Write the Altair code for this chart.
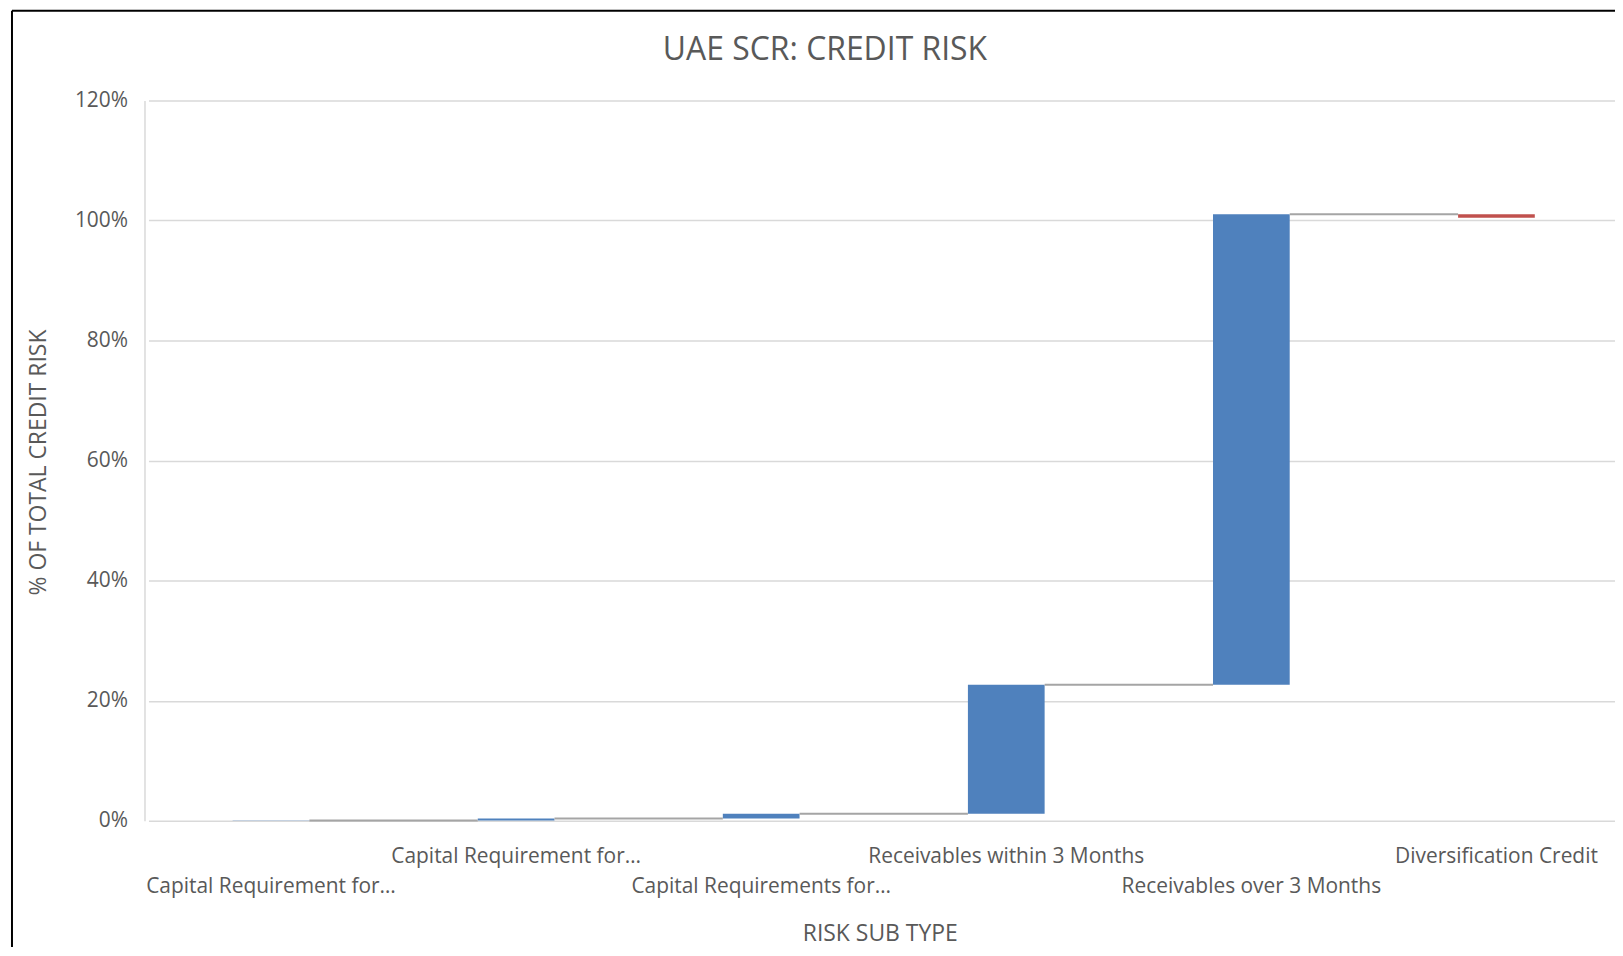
import json
import altair as alt
import pandas as pd

# ---- data ----
labels = [
    "Capital Requirement for…",
    "Capital Requirement for…",
    "Capital Requirements for…",
    "Receivables within 3 Months",
    "Receivables over 3 Months",
    "Diversification Credit",
]
values = [0.0005, 0.003, 0.008, 0.215, 0.784, -0.006]  # share of total credit risk
y_ticks = [0, 0.2, 0.4, 0.6, 0.8, 1.0, 1.2]

BLUE = "#4F81BD"
RED = "#C0504D"
GREY = "#A5A5A5"
TEXT = "#595959"
FONT = "Open Sans"

# waterfall table
rows = []
level = 0.0
for i, (lab, v) in enumerate(zip(labels, values)):
    start = level
    level = level + v
    rows.append({"key": i, "label": lab, "start": start, "end": level,
                 "kind": "up" if v >= 0 else "down"})
df = pd.DataFrame(rows)

conn = pd.DataFrame([
    {"key": r["key"], "next": r["key"] + 1, "level": r["end"]}
    for r in rows[:-1]
])

W, H = 1476, 723
BAR = 77

label_expr = json.dumps(labels) + "[datum.value]"

x_enc = alt.X(
    "key:O",
    title="RISK SUB TYPE",
    scale=alt.Scale(paddingInner=0, paddingOuter=0, range=[4, W + 4]),
    axis=alt.Axis(
        labelExpr=label_expr,
        labelAngle=0,
        labelBaseline="middle",
        labelPadding=alt.ExprRef("datum.value % 2 == 0 ? 66 : 36"),
        labelOverlap=False,
        labelLimit=600,
        labelFontSize=21,
        ticks=False,
        tickSize=0,
        domain=False,
        titleX=W / 2,
        titleY=113,
        titleBaseline="middle",
        titleFontSize=23,
    ),
)

y_scale = alt.Scale(domain=[0, 1.2], nice=False)
y_axis = alt.Axis(
    values=y_ticks,
    format=".0%",
    labelFontSize=21,
    labelPadding=17,
    ticks=False,
    tickSize=0,
    domainColor="#D9D9D9",
    domainWidth=1.5,
    gridColor="#D9D9D9",
    gridWidth=1.5,
    title="% OF TOTAL CREDIT RISK",
    titleX=-106,
    titleY=363,
    titleAngle=-90,
    titleAlign="center",
    titleBaseline="middle",
    titleFontSize=23,
)

bars = alt.Chart(df).mark_bar(size=BAR).encode(
    x=x_enc,
    y=alt.Y("start:Q", scale=y_scale, axis=y_axis),
    y2="end:Q",
    color=alt.Color("kind:N", scale=alt.Scale(domain=["up", "down"], range=[BLUE, RED]), legend=None),
)

connectors = alt.Chart(conn).mark_rule(color=GREY, strokeWidth=2, xOffset=BAR / 2, x2Offset=-BAR / 2).encode(
    x="key:O",
    x2="next:O",
    y="level:Q",
)

border_df = pd.DataFrame({"k": [0]})
border_left = alt.Chart(border_df).mark_rule(color="#000000", strokeWidth=2).encode(
    x=alt.value(-133), y=alt.value(-90), y2=alt.value(H + 130)
)
border_top = alt.Chart(border_df).mark_rule(color="#000000", strokeWidth=2).encode(
    x=alt.value(-133), x2=alt.value(W + 10), y=alt.value(-90)
)

chart = alt.layer(bars, connectors, border_left, border_top).properties(
    width=W,
    height=H,
    title=alt.TitleParams(
        "UAE SCR: CREDIT RISK",
        anchor="middle",
        dx=-55,
        offset=-57,
        fontSize=32,
        font=FONT,
        fontWeight="normal",
        color=TEXT,
    ),
    padding={"left": 137, "top": 91, "right": 0, "bottom": 125},
    autosize=alt.AutoSizeParams(type="none"),
).configure_view(stroke=None).configure_axis(
    labelFont=FONT,
    titleFont=FONT,
    labelColor=TEXT,
    titleColor=TEXT,
    titleFontWeight="normal",
)

chart.save("out.html", embed_options={"renderer": "svg", "actions": False})
